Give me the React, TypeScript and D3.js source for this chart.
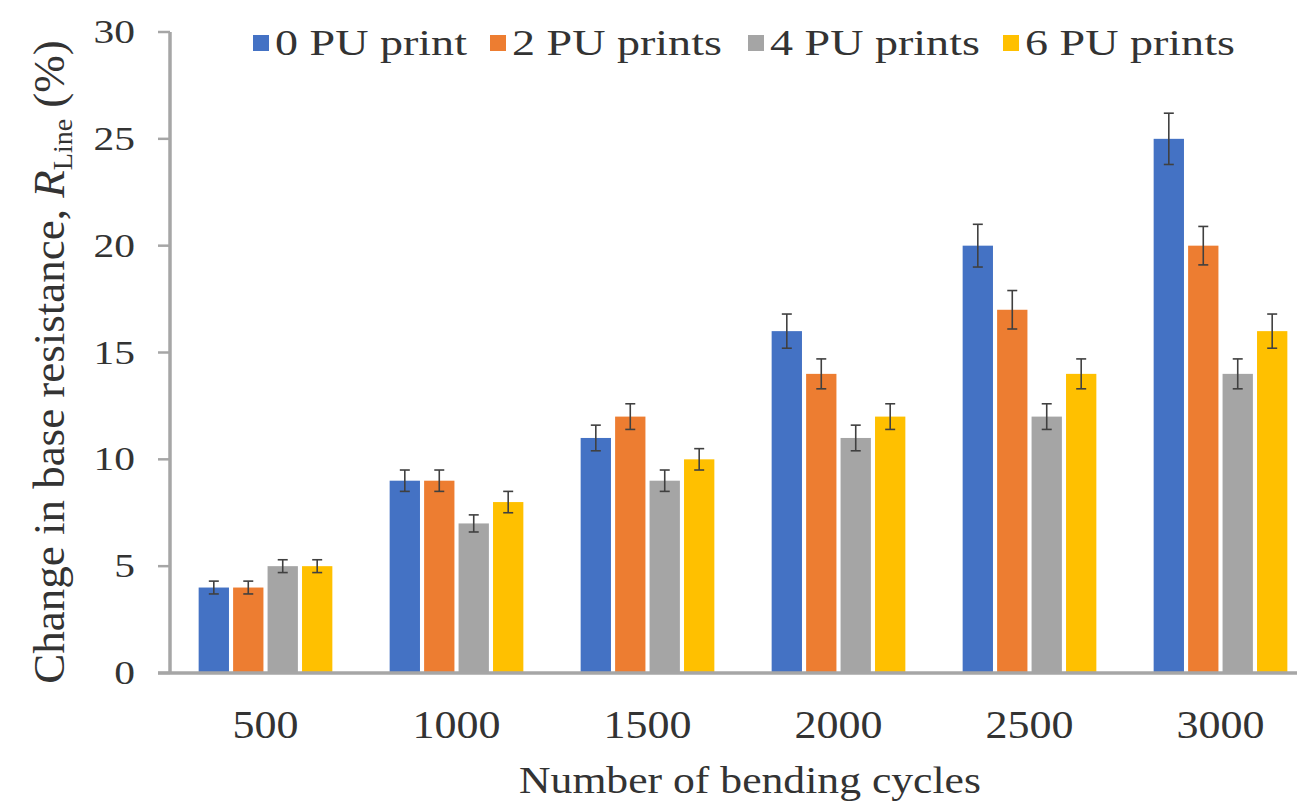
import React from 'react';
import * as d3 from 'd3';

// bending cycles on the x axis
const cycles = ['500', '1000', '1500', '2000', '2500', '3000'];

const seriesNames = ['0 PU print', '2 PU prints', '4 PU prints', '6 PU prints'];
const seriesColors = ['#4472C4', '#ED7D31', '#A5A5A5', '#FFC000'];

// change in base resistance (%), one array per series
const pu0 = [4, 9, 11, 16, 20, 25];
const pu2 = [4, 9, 12, 14, 17, 20];
const pu4 = [5, 7, 9, 11, 12, 14];
const pu6 = [5, 8, 10, 12, 14, 16];

// error bar half-lengths
const pu0Err = [0.3, 0.5, 0.6, 0.8, 1.0, 1.2];
const pu2Err = [0.3, 0.5, 0.6, 0.7, 0.9, 0.9];
const pu4Err = [0.3, 0.4, 0.5, 0.6, 0.6, 0.7];
const pu6Err = [0.3, 0.5, 0.5, 0.6, 0.7, 0.8];

const yTicks = [0, 5, 10, 15, 20, 25, 30];

const values = [pu0, pu2, pu4, pu6];
const errors = [pu0Err, pu2Err, pu4Err, pu6Err];

const W = 1297;
const H = 802;
const left = 170;
const top = 32;
const bottom = 673;
const serif = '"Liberation Serif", "Times New Roman", serif';
const ink = '#333333';

// legend square positions
const legendX = [253, 490, 748, 1003];

const App = () => {
  const x = d3.scaleBand<string>().domain(cycles).range([left, left + 6 * 191]).paddingInner(0.3).paddingOuter(0.15);
  const xs = d3.scaleBand<string>().domain(seriesNames).range([0, x.bandwidth()]).paddingInner(0.12);
  const y = d3.scaleLinear().domain([0, 30]).range([bottom, top]);

  return (
    <svg width={W} height={H} style={{ display: 'block', position: 'absolute', left: 0, top: 0, background: '#fff' }}>
      {/* bars */}
      {seriesNames.map((s, si) => (
        <g key={s}>
          {cycles.map((c, ci) => {
            const bx = (x(c) ?? 0) + (xs(s) ?? 0);
            const v = values[si][ci];
            return (
              <rect key={c} x={bx} y={y(v)} width={xs.bandwidth()} height={y(0) - y(v)} fill={seriesColors[si]} />
            );
          })}
        </g>
      ))}

      {/* error bars */}
      {seriesNames.map((s, si) => (
        <g key={s + '-err'} stroke="#404040" strokeWidth={1.6}>
          {cycles.map((c, ci) => {
            const cx = (x(c) ?? 0) + (xs(s) ?? 0) + xs.bandwidth() / 2;
            const v = values[si][ci];
            const e = errors[si][ci];
            return (
              <g key={c}>
                <line x1={cx} x2={cx} y1={y(v - e)} y2={y(v + e)} />
                <line x1={cx - 5} x2={cx + 5} y1={y(v + e)} y2={y(v + e)} />
                <line x1={cx - 5} x2={cx + 5} y1={y(v - e)} y2={y(v - e)} />
              </g>
            );
          })}
        </g>
      ))}

      {/* axes */}
      <line x1={left} x2={left} y1={top} y2={bottom} stroke="#a6a6a6" strokeWidth={3.5} />
      <line x1={left - 12} x2={W} y1={bottom} y2={bottom} stroke="#a6a6a6" strokeWidth={3.5} />
      {yTicks.map((t) => (
        <g key={t}>
          <line x1={left - 12} x2={left} y1={y(t)} y2={y(t)} stroke="#a6a6a6" strokeWidth={2.5} />
          <text
            transform={`translate(${left - 35},${y(t) + 11}) scale(1.22,1)`}
            textAnchor="end"
            fontFamily={serif}
            fontSize={34}
            fill={ink}
          >
            {t}
          </text>
        </g>
      ))}
      {cycles.map((c) => (
        <text
          key={c}
          transform={`translate(${(x(c) ?? 0) + x.bandwidth() / 2},${738}) scale(1.1,1)`}
          textAnchor="middle"
          fontFamily={serif}
          fontSize={40}
          fill={ink}
        >
          {c}
        </text>
      ))}

      {/* axis titles */}
      <text
        transform={`translate(${750},${793}) scale(1.12,1)`}
        textAnchor="middle"
        fontFamily={serif}
        fontSize={39}
        fill={ink}
      >
        Number of bending cycles
      </text>
      <text
        transform={`translate(${64},${362}) rotate(-90)`}
        textAnchor="middle"
        fontFamily={serif}
        fontSize={45}
        fill={ink}
      >
        Change in base resistance,{' '}
        <tspan fontStyle="italic">R</tspan>
        <tspan fontSize={28} dy={8}>Line</tspan>
        <tspan dy={-8}> (%)</tspan>
      </text>

      {/* legend */}
      {seriesNames.map((s, si) => (
        <g key={s + '-leg'}>
          <rect x={legendX[si]} y={35} width={16} height={16} fill={seriesColors[si]} />
          <text
            transform={`translate(${legendX[si] + 22},${55}) scale(1.28,1)`}
            fontFamily={serif}
            fontSize={36}
            fill={ink}
          >
            {s}
          </text>
        </g>
      ))}
    </svg>
  );
};

export default App;
